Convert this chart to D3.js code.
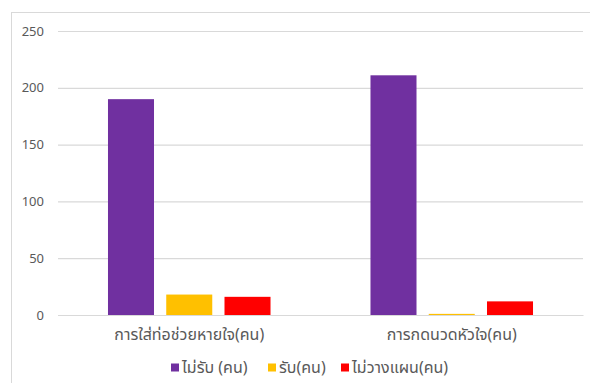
<!DOCTYPE html>
<html><head><meta charset="utf-8">
<script src="https://cdn.jsdelivr.net/npm/d3@7"></script>
<style>
body{margin:0;background:#fff;}
text{font-family:"Noto Sans","Noto Sans Thai",Tahoma,sans-serif;fill:#595959;}
</style></head>
<body><svg id="c" width="590" height="383"></svg>
<script>
const categories = ["การใส่ท่อช่วยหายใจ(คน)", "การกดนวดหัวใจ(คน)"];
const seriesNames = ["ไม่รับ (คน)", "รับ(คน)", "ไม่วางแผน(คน)"];
const seriesColors = ["#7030A0", "#FFC000", "#FF0000"];
const notAccept = [190, 211];
const accept = [18, 1];
const noPlan = [16, 12];
const yTicks = [0, 50, 100, 150, 200, 250];

(function(){
const seriesValues = [notAccept, accept, noPlan];
const svg = d3.select("#c");

// chart border
svg.append("rect").attr("x", 11.5).attr("y", 12.5).attr("width", 600).attr("height", 400)
  .attr("fill", "none").attr("stroke", "#d9d9d9").attr("stroke-width", 1);

const mL = 58, mR = 583, mT = 31, mB = 315;
const x = d3.scaleBand().domain(categories).range([mL, mR]).padding(0);
const xs = d3.scaleBand().domain(d3.range(seriesNames.length)).range([0, x.bandwidth()])
  .paddingInner(0.21).paddingOuter(0.858);
const y = d3.scaleLinear().domain([0, 250]).range([mB, mT]);

// gridlines
const yAxis = d3.axisLeft(y).tickValues(yTicks).tickSize(-(mR - mL)).tickPadding(14);
const gy = svg.append("g").attr("transform", `translate(${mL},0)`).call(yAxis);
gy.select(".domain").remove();
gy.selectAll(".tick line").attr("stroke", "#d9d9d9").attr("stroke-width", 1.2);
gy.selectAll(".tick text").style("font-size", "13px").attr("fill", "#595959");

// bars
categories.forEach((c, ci) => {
  seriesValues.forEach((vals, si) => {
    svg.append("rect")
      .attr("x", x(c) + xs(si))
      .attr("y", y(vals[ci]))
      .attr("width", xs.bandwidth())
      .attr("height", y(0) - y(vals[ci]))
      .attr("fill", seriesColors[si]);
  });
});

// x axis
const xAxis = d3.axisBottom(x).tickSize(0).tickPadding(14);
const gx = svg.append("g").attr("transform", `translate(0,${mB})`).call(xAxis);
gx.select(".domain").attr("stroke", "#d9d9d9").attr("stroke-width", 1.2);
gx.selectAll(".tick text").style("font-size", "16px").attr("fill", "#595959");

// legend
const legendX = [171, 268, 341];
const lg = svg.append("g");
seriesNames.forEach((n, i) => {
  lg.append("rect").attr("x", legendX[i]).attr("y", 363.5).attr("width", 8).attr("height", 8)
    .attr("fill", seriesColors[i]);
  lg.append("text").attr("x", legendX[i] + 11).attr("y", 373).text(n)
    .style("font-size", "16px");
});
})();
</script></body></html>
